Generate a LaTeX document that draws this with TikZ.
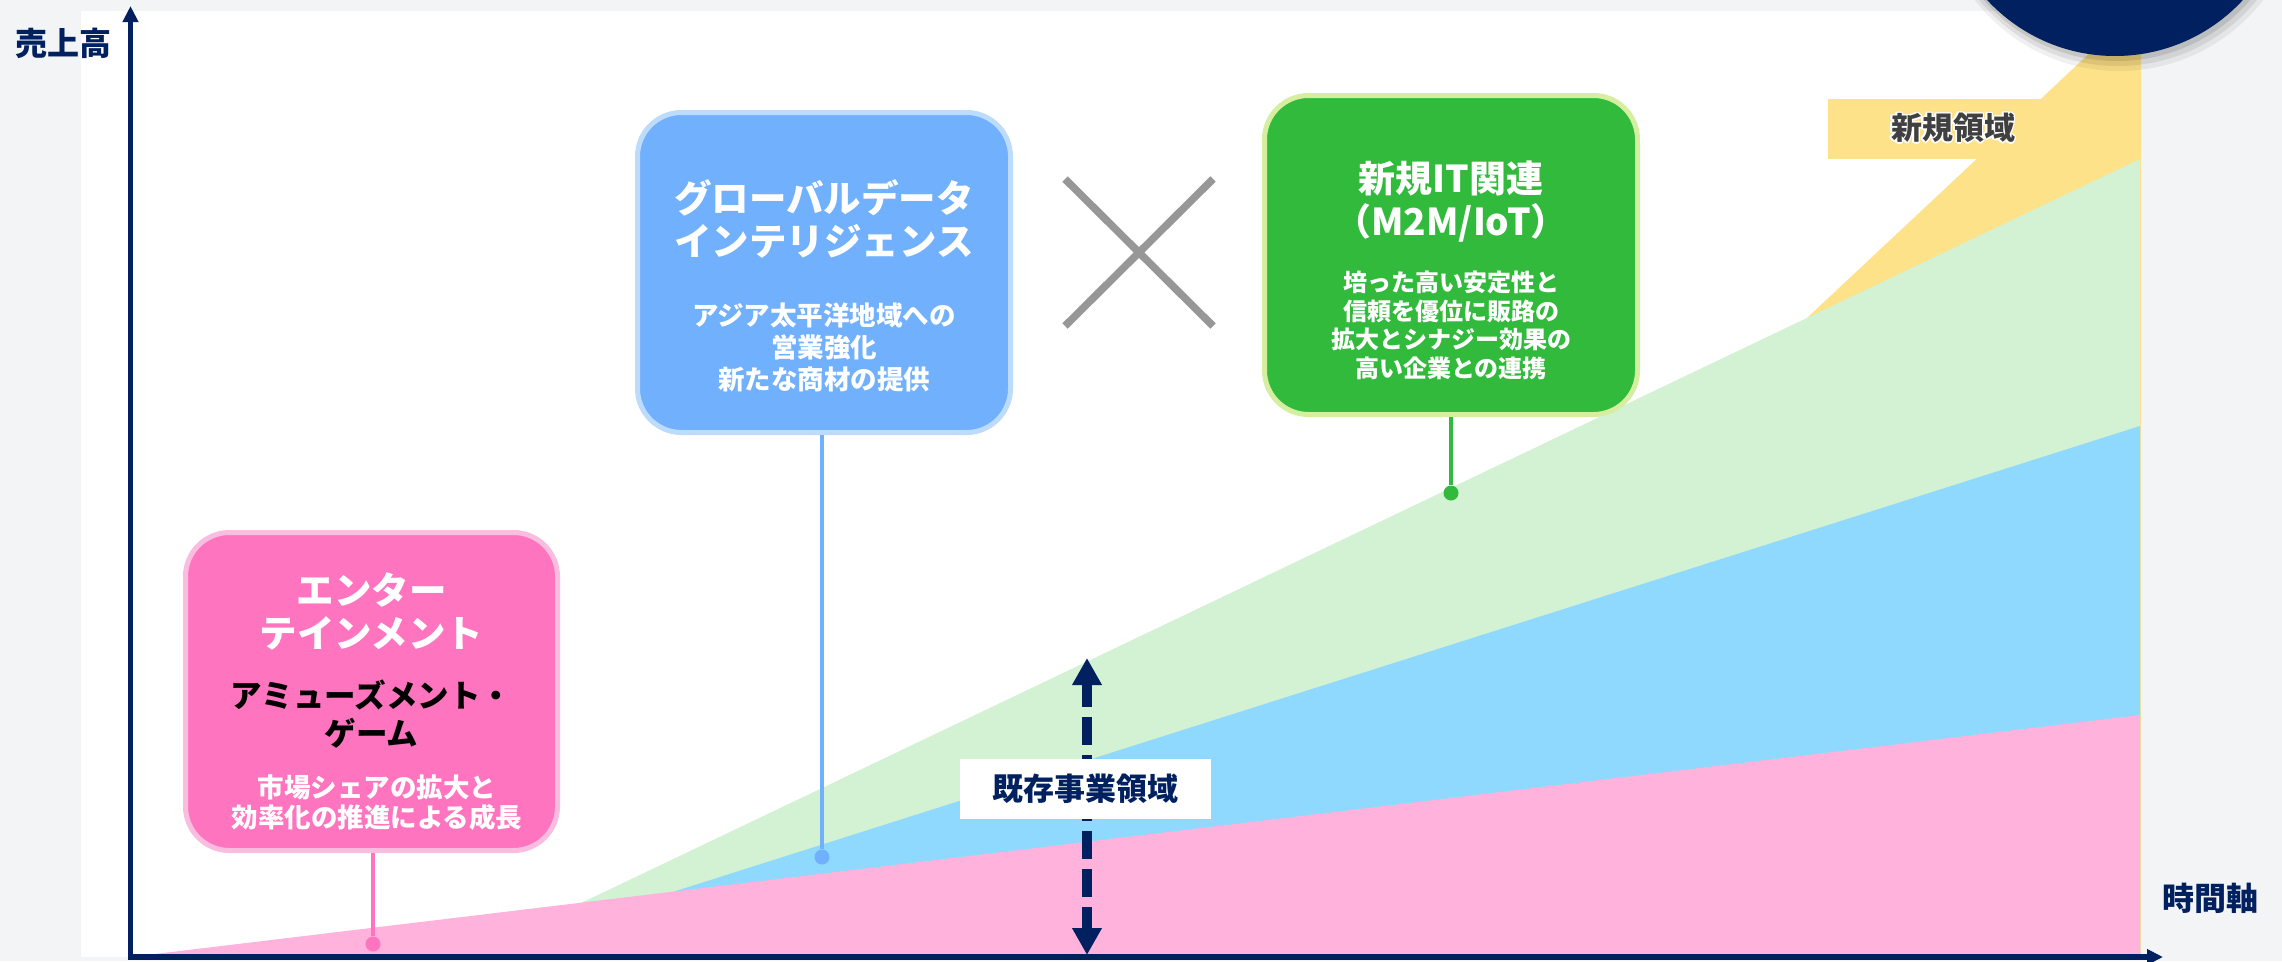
\documentclass[tikz,border=0pt]{standalone}
\usepackage{fontspec}
\setmainfont{Noto Sans CJK JP}
\usetikzlibrary{arrows.meta}
\definecolor{navy}{HTML}{00205F}
\definecolor{bggray}{HTML}{F3F4F6}
\definecolor{ylw}{HTML}{FEE28A}
\definecolor{lgreen}{HTML}{D3F1D3}
\definecolor{lblue}{HTML}{8FD9FE}
\definecolor{lpink}{HTML}{FFB2DB}
\definecolor{bluec}{HTML}{71B0FC}
\definecolor{blueb}{HTML}{BDDCFC}
\definecolor{greenc}{HTML}{31BA3B}
\definecolor{greenb}{HTML}{D6EEA0}
\definecolor{pinkc}{HTML}{FF74BF}
\definecolor{pinkb}{HTML}{F9BEDF}
\definecolor{crossgray}{HTML}{979797}
\definecolor{darktext}{HTML}{404040}
\newcommand\myfs[2]{\fontsize{#1}{#2}\selectfont}
\newcommand\myhalo[1]{\leavevmode
  \rlap{\color{white}\hspace{-1.5pt}#1}%
  \rlap{\color{white}\hspace{1.5pt}#1}%
  \rlap{\color{white}\raisebox{1.5pt}{#1}}%
  \rlap{\color{white}\raisebox{-1.5pt}{#1}}%
  \rlap{\color{white}\hspace{-1.1pt}\raisebox{1.1pt}{#1}}%
  \rlap{\color{white}\hspace{1.1pt}\raisebox{1.1pt}{#1}}%
  \rlap{\color{white}\hspace{-1.1pt}\raisebox{-1.1pt}{#1}}%
  \rlap{\color{white}\hspace{1.1pt}\raisebox{-1.1pt}{#1}}%
  #1}
\begin{document}
\begin{tikzpicture}[x=1pt,y=-1pt,
  box/.style={rounded corners=44pt, line width=5pt, inner sep=0pt},
  txt/.style={inner sep=0pt, align=center, font=\bfseries},
  dot/.style={circle, inner sep=0pt, minimum size=15pt},
  conn/.style={line width=3.5pt},
  axisarrows/.style={arrows={Triangle[width=15pt,length=16pt]-Triangle[width=15pt,length=16pt]}},
  bigarrows/.style={arrows={Triangle[width=28pt,length=27pt]-Triangle[width=28pt,length=27pt]}}]
\useasboundingbox (0,0) rectangle (2282,961);
\fill[bggray] (0,0) rectangle (2282,961);
\fill[white] (81,11) rectangle (2140,957);
% growth regions
\fill[ylw] (1125,957) -- (2141,5) -- (2141,957) -- cycle;
\fill[lgreen] (468,957) -- (2140,159) -- (2140,957) -- cycle;
\fill[lblue] (468,957) -- (2140,426) -- (2140,957) -- cycle;
\fill[lpink] (130,957) -- (2140,715) -- (2140,957) -- cycle;
% new-area label
\fill[ylw] (1828,99) rectangle (2060,159);
\node[txt, text=darktext, font=\bfseries\myfs{31}{36}] (newarea) at (1953,128) {\myhalo{新規領域}};
% top-right circle with shadow
\fill[black, opacity=0.06] (2119,-111) circle[radius=182pt];
\fill[black, opacity=0.08] (2118,-113) circle[radius=179pt];
\fill[black, opacity=0.10] (2117,-115) circle[radius=176pt];
\fill[navy] (2115,-118) circle[radius=174pt];
% axes
\coordinate (O) at (130.5,957);
\coordinate (ytip) at (130.5,6);
\coordinate (xtip) at (2163,957);
\draw[navy, line width=5.5pt, axisarrows] (ytip) -- (O) -- (xtip);
\node[txt, text=navy, font=\bfseries\myfs{32}{36}] (ylabel) at (64,43) {売上高};
\node[txt, text=navy, font=\bfseries\myfs{32}{36}] (xlabel) at (2210,898) {時間軸};
% cross
\coordinate (c1) at (1065,179);
\coordinate (c2) at (1213,326);
\coordinate (c3) at (1213,179);
\coordinate (c4) at (1065,326);
\draw[crossgray, line width=7.5pt] (c1) -- (c2) (c3) -- (c4);
% dots
\node[dot, fill=pinkc] (pdot) at (373,944) {};
\node[dot, fill=bluec] (bdot) at (822,857) {};
\node[dot, fill=greenc] (gdot) at (1451,493) {};
% boxes
\node[box, fill=pinkc, draw=pinkb, minimum width=372pt, minimum height=318pt] (pbox) at (371.5,691.5) {};
\node[box, fill=bluec, draw=blueb, minimum width=373pt, minimum height=320pt] (bbox) at (824,272.5) {};
\node[box, fill=greenc, draw=greenb, minimum width=373pt, minimum height=319pt] (gbox) at (1451,255) {};
% connectors
\draw[conn, pinkc] (pbox.south -| pdot) -- (pdot);
\draw[conn, bluec] (bbox.south -| bdot) -- (bdot);
\draw[conn, greenc] (gbox.south -| gdot) -- (gdot);
% blue box text
\node[txt, text=white, font=\bfseries\myfs{37.5}{43}] (btitle) at (824,218.5) {グローバルデータ\\インテリジェンス};
\node[txt, text=white, font=\bfseries\myfs{26.5}{32}] (bsub) at (824,347) {アジア太平洋地域への\\営業強化\\新たな商材の提供};
% green box text
\node[txt, text=white, font=\bfseries\myfs{37}{43}] (gtitle) at (1451,201.5) {新規IT関連\\（M2M/IoT）};
\node[txt, text=white, font=\bfseries\myfs{24}{28.5}] (gsub) at (1451,325.5) {培った高い安定性と\\信頼を優位に販路の\\拡大とシナジー効果の\\高い企業との連携};
% pink box text
\node[txt, text=white, font=\bfseries\myfs{37.5}{43}] (ptitle) at (371.5,611.5) {エンター\\テインメント};
\node[txt, text=black, font=\bfseries\myfs{31.5}{38}] (psub1) at (371.5,714) {アミューズメント・\\ゲーム};
\node[txt, text=white, font=\bfseries\myfs{26.5}{30}] (psub2) at (377,803) {市場シェアの拡大と\\効率化の推進による成長};
% existing business arrow
\coordinate (dtop) at (1087,658);
\coordinate (dbot) at (1087,955);
\draw[navy, line width=9.5pt, dash pattern=on 28pt off 10pt, dash phase=4pt, bigarrows] (dtop) -- (dbot);
\node[fill=white, inner sep=0pt, minimum width=251pt, minimum height=60pt, text=navy, font=\bfseries\myfs{31}{36}] (exlbl) at (1085.5,789) {既存事業領域};
\end{tikzpicture}
\end{document}
